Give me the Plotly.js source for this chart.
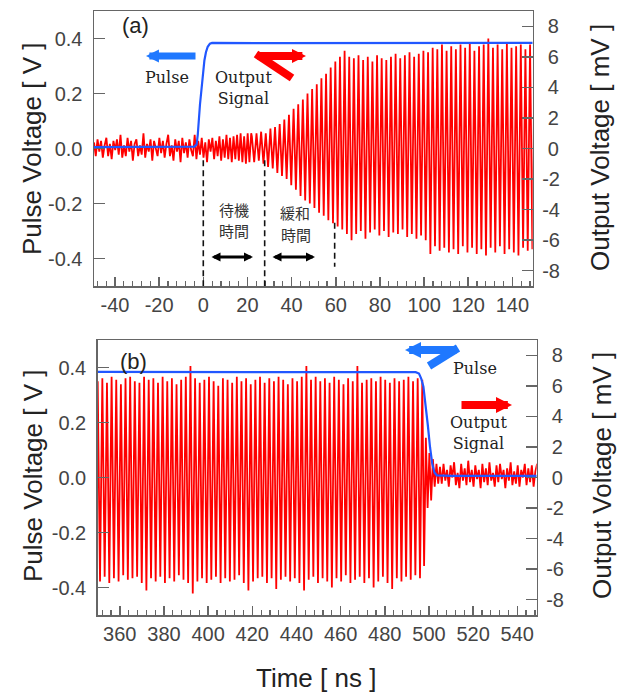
<!DOCTYPE html>
<html><head><meta charset="utf-8">
<script src="https://cdn.plot.ly/plotly-3.0.1.min.js"></script>
<style>html,body{margin:0;padding:0;background:#fff;}#chart{width:625px;height:693px;}</style>
</head><body><div id="chart"></div>
<script>
// ---------------- data ----------------
// Panel (a): pulse voltage [V]
const pulseA_t = [-49.5, -20, -4, -3, -2.5, -1.5, -0.5, 0.5, 1.2, 2, 3, 4, 30, 80, 149.2];
const pulseA_v = [0.005, 0.006, 0.007, 0.015, 0.05, 0.16, 0.25, 0.32, 0.35, 0.37, 0.381, 0.384, 0.383, 0.384, 0.384];
// Panel (a): output signal [mV], baseline noise sampled from t0 with a fixed sample step
const noiseA_t0 = -49.5, noiseA_step = 0.8;
const noiseA_mV = [
 0.4,-0.5,0.6,-0.2,0.5,-0.6,0.2,0.7,-0.5,0.3,
 -0.7,0.5,-0.1,0.6,-0.4,0.9,-0.6,0.2,-0.5,0.7,
 -0.2,0.5,-0.8,0.3,0.6,-0.5,0.2,-0.4,1.0,-0.6,
 0.3,-0.2,0.6,-0.8,0.5,-0.1,-0.5,0.7,-0.3,0.5,
 -0.6,0.3,0.9,-0.5,0.2,-0.8,0.6,-0.2,0.5,-0.9,
 0.7,-0.3,0.4,-0.6,0.6,-0.1,-0.5,0.9,-0.7,0.5,
 -0.4,0.7,-0.6,0.4,-0.9,0.6,-0.2,0.7,-0.7,0.5,
 -0.5,0.8,-0.8,0.6,-0.6,0.9,-0.7,0.7,-0.9,0.8,
 -0.7,0.9,-0.8,1.0,-0.9,0.8,-1.0,1.0,-0.9,1.0];
// Panel (a): oscillation peaks / troughs [mV]
const oscA_t0 = 22, oscA_step = 1.05;
const oscA_mV = [
 0.8,-0.9,1.0,-0.8,1.1,-1.0,1.0,-1.2,1.3,-1.3,
 1.4,-1.6,1.6,-1.8,1.9,-2.0,2.2,-2.4,2.6,-2.7,
 2.9,-3.1,3.2,-3.4,3.6,-3.6,3.9,-3.9,4.2,-4.2,
 4.6,-4.4,4.9,-4.7,5.3,-4.9,5.7,-5.1,6.0,-5.3,
 6.4,-5.6,6.0,-6.0,5.9,-5.6,6.1,-5.4,5.8,-5.9,
 6.0,-5.5,5.7,-5.3,6.1,-5.7,5.9,-5.4,5.8,-5.8,
 6.0,-5.5,6.2,-5.6,5.9,-5.3,6.1,-5.8,6.3,-5.6,
 6.0,-5.9,6.2,-5.7,6.4,-6.0,6.3,-6.9,6.6,-6.4,
 6.5,-6.7,6.8,-6.5,6.4,-6.8,6.7,-6.6,6.5,-6.9,
 6.8,-6.4,6.6,-6.8,6.9,-6.5,6.4,-6.9,6.7,-6.6,
 6.8,-7.0,7.2,-6.5,6.6,-6.8,6.8,-6.4,6.5,-6.9,
 6.9,-6.6,6.6,-6.8,6.7,-7.0,6.8,-6.5,6.5,-6.7,
 6.8,-6.6,6.6];

// Panel (b): pulse voltage [V]
const pulseB_t = [350, 400, 450, 494, 495.5, 496.5, 497.5, 498.5, 499.5, 500.5, 501.5, 502.5, 503.5, 510, 548.8];
const pulseB_v = [0.384, 0.383, 0.384, 0.383, 0.378, 0.36, 0.33, 0.27, 0.19, 0.11, 0.05, 0.018, 0.008, 0.006, 0.006];
// Panel (b): oscillation peaks / troughs [mV]
const oscB_t0 = 350, oscB_step = 1.05;
const oscB_mV = [
 6.3,-6.8,6.5,-6.5,6.2,-6.9,6.6,-6.6,6.4,-6.8,6.1,-6.4,6.5,-6.7,6.6,-6.6,6.3,-6.5,6.2,-6.9,
 6.6,-7.4,6.4,-6.6,6.5,-6.8,6.2,-6.5,6.6,-6.9,6.3,-6.6,6.5,-6.8,6.1,-6.4,6.4,-6.7,6.6,-6.9,
 7.3,-7.6,6.5,-6.8,6.2,-6.6,6.4,-6.9,6.6,-6.7,6.3,-6.5,6.0,-6.9,6.5,-6.6,6.4,-6.8,6.2,-6.7,
 6.6,-6.4,6.3,-6.9,6.5,-7.4,6.1,-6.8,6.4,-6.6,6.6,-6.5,6.2,-6.9,6.5,-6.6,6.3,-7.3,6.6,-6.7,
 6.4,-6.5,6.1,-6.8,6.5,-6.6,6.3,-6.9,6.6,-7.4,7.3,-6.7,6.4,-6.5,6.6,-6.9,6.3,-6.6,6.5,-6.8,
 6.2,-7.2,6.6,-6.6,6.4,-6.8,6.1,-6.4,6.5,-6.9,6.3,-6.7,7.3,-6.5,6.2,-6.9,6.4,-6.6,6.5,-7.2,
 6.3,-6.8,6.6,-6.5,6.4,-6.9,6.2,-7.3,6.5,-6.6,6.3,-6.8,6.4,-6.5,6.6,-6.7,6.3,-6.4,6.5,-6.6,
 6.4];
// Panel (b): decay and baseline noise [mV]
const tailB_t0 = 497.8, tailB_step = 0.8;
const tailB_mV = [
 -5.8,2.6,-2.0,1.6,-1.5,1.2,-0.6,0.9,-0.4,
 0.7,-0.4,0.9,-0.2,0.5,-0.6,0.8,0.0,1.0,-0.5,
 0.3,-0.7,0.9,-0.2,0.6,-0.5,1.1,-0.3,0.5,-0.6,
 0.8,-0.1,0.5,-0.7,0.9,-0.3,0.6,-0.5,1.0,-0.2,
 0.3,-0.6,0.8,-0.3,0.9,-0.1,0.5,-0.7,0.6,-0.2,
 1.0,-0.5,0.4,-0.4,0.8,-0.6,0.5,0.0,0.9,-0.5,
 0.6,-0.3,0.8,-0.6,0.4,0.9];

// tick labels
const xTicksA = [-40,-20,0,20,40,60,80,100,120,140];
const xTicksB = [360,380,400,420,440,460,480,500,520,540];
const vTicks = [-0.4,-0.2,0,0.2,0.4];
const vTickText = ['-0.4','-0.2','0.0','0.2','0.4'];
const mvTicks = [-8,-6,-4,-2,0,2,4,6,8];
const mvTickText = ['-8','-6','-4','-2','\u20080','\u20082','\u20084','\u20086','\u20088'];
// markers of the waiting / relaxation period [ns]
const dashTimes = [0, 27.8, 59.5];

// ---------------- helpers ----------------
function sampleTimes(t0, step, n){ const a=[]; for(let i=0;i<n;i++) a.push(+(t0+i*step).toFixed(3)); return a; }
const W=625, H=693;
const px = x => x/W, py = y => 1-y/H;
const tickLbl = v => String(v);

const RED='#ff0000', BLUE='#2157ff', ARROWBLUE='#1f78ff', FRAME='#666666';
const sans='Liberation Sans, Arial, sans-serif';
const serif='DejaVu Serif, serif';
const cjk='Noto Sans CJK JP, sans-serif';

const redA_t = sampleTimes(noiseA_t0, noiseA_step, noiseA_mV.length).concat(sampleTimes(oscA_t0, oscA_step, oscA_mV.length));
const redA_v = noiseA_mV.concat(oscA_mV);
const redB_t = sampleTimes(oscB_t0, oscB_step, oscB_mV.length).concat(sampleTimes(tailB_t0, tailB_step, tailB_mV.length));
const redB_v = oscB_mV.concat(tailB_mV);

const traces = [
 {x: redA_t, y: redA_v, xaxis:'x', yaxis:'y', mode:'lines', line:{color:RED, width:1.8}, hoverinfo:'skip'},
 {x: pulseA_t, y: pulseA_v, xaxis:'x', yaxis:'y2', mode:'lines', line:{color:BLUE, width:2.2}, hoverinfo:'skip'},
 {x: redB_t, y: redB_v, xaxis:'x2', yaxis:'y3', mode:'lines', line:{color:RED, width:1.8}, hoverinfo:'skip'},
 {x: pulseB_t, y: pulseB_v, xaxis:'x2', yaxis:'y4', mode:'lines', line:{color:BLUE, width:2.2}, hoverinfo:'skip'}
];

const tickfont = {family: sans, size: 20, color:'#444'};
function xAxis(domain, range, anchor, ticks){
  return {domain, range, anchor, showline:true, linecolor:FRAME, linewidth:1.5, mirror:true,
    ticks:'inside', ticklen:9, tickwidth:1.5, tickcolor:FRAME,
    tickmode:'array', tickvals:ticks, ticktext:ticks.map(tickLbl), tickfont,
    minor:{ticks:'inside', ticklen:5, tickwidth:1.2, tickcolor:FRAME, dtick:4, tick0:0, showgrid:false},
    showgrid:false, zeroline:false, ticklabelstandoff:0, fixedrange:true};
}
function mvAxis(domain, anchor){
  return {domain, range:[-9,9], anchor, side:'right', showline:true, linecolor:FRAME, linewidth:1.5,
    ticks:'inside', ticklen:11, tickwidth:1.5, tickcolor:FRAME,
    tickmode:'array', tickvals:mvTicks, ticktext:mvTickText, tickfont,
    showgrid:false, zeroline:false, ticklabelstandoff:4, fixedrange:true};
}
function vAxis(over, anchor){
  return {overlaying:over, anchor, side:'left', range:[-0.5,0.5], showline:true, linecolor:FRAME, linewidth:1.5,
    ticks:'inside', ticklen:11, tickwidth:1.5, tickcolor:FRAME,
    tickmode:'array', tickvals:vTicks, ticktext:vTickText, tickfont,
    showgrid:false, zeroline:false, ticklabelstandoff:6, fixedrange:true};
}

const txt = (text, x, y, font, extra) => Object.assign({text, xref:'paper', yref:'paper', x:px(x), y:py(y),
  xanchor:'center', yanchor:'middle', showarrow:false, font}, extra||{});
const titleFont = {family:sans, size:26, color:'#222'};
const labelFont = {family:serif, size:16, color:'#222'};
const cjkFont = {family:cjk, size:15, color:'#333'};

function arrow(tx, ty, dx, color, w, size, both){
  return {text:'', xref:'paper', yref:'paper', x:px(tx), y:py(ty), axref:'pixel', ayref:'pixel', ax:dx, ay:0,
    showarrow:true, arrowhead:2, arrowsize:size, arrowwidth:w, arrowcolor:color,
    arrowside: both ? 'end+start' : 'end', startstandoff:0, standoff:0};
}
const bar = (x0,y0,x1,y1,color,w) => ({type:'line', xref:'paper', yref:'paper', x0:px(x0), y0:py(y0), x1:px(x1), y1:py(y1), line:{color, width:w}});

const annotations = [
 txt('(a)', 135, 26, {family:sans, size:22, color:'#222'}),
 txt('(b)', 133, 361, {family:sans, size:22, color:'#222'}),
 txt('Pulse Voltage [ V ]', 32, 149, titleFont, {textangle:-90}),
 txt('Pulse Voltage [ V ]', 33, 476, titleFont, {textangle:-90}),
 txt('Output Voltage [ mV ]', 600, 148, titleFont, {textangle:-90}),
 txt('Output Voltage [ mV ]', 602, 476, titleFont, {textangle:-90}),
 txt('Time [ ns ]', 316, 678, titleFont),
 txt('Pulse', 167, 78, labelFont),
 txt('Output<br>Signal', 243, 88.5, labelFont),
 txt('Pulse', 475, 368, labelFont),
 txt('Output<br>Signal', 478, 432.5, labelFont),
 txt('待機', 233.5, 209, cjkFont),
 txt('時間', 233.5, 231, cjkFont),
 txt('緩和', 295, 212, cjkFont),
 txt('時間', 296, 234, cjkFont),
 arrow(146, 56, 51, ARROWBLUE, 7, 0.37, false),
 arrow(306, 56, -50, RED, 8, 0.35, false),
 arrow(405, 350, 53, ARROWBLUE, 8, 0.4, false),
 arrow(512, 405, -52, RED, 8, 0.4, false),
 arrow(253, 257, -43, '#000', 3, 0.6, true),
 arrow(315, 257, -44, '#000', 3, 0.6, true)
];

const shapes = [
 bar(256, 54, 292, 78, RED, 8),
 bar(458, 348, 429, 366, ARROWBLUE, 8),
 {type:'line', xref:'x', yref:'y2', x0:dashTimes[0], x1:dashTimes[0], y0:-0.043, y1:-0.5, line:{color:'#111', width:1.6, dash:'6px,4px'}},
 {type:'line', xref:'x', yref:'y2', x0:dashTimes[1], x1:dashTimes[1], y0:-0.043, y1:-0.5, line:{color:'#111', width:1.6, dash:'6px,4px'}},
 {type:'line', xref:'x', yref:'y2', x0:dashTimes[2], x1:dashTimes[2], y0:-0.27, y1:-0.43, line:{color:'#111', width:1.6, dash:'6px,4px'}}
];

const layout = {
  width:W, height:H, margin:{l:0,r:0,t:0,b:0}, paper_bgcolor:'#fff', plot_bgcolor:'#fff',
  showlegend:false, font:{family:sans},
  xaxis: xAxis([94/W, 532.7/W], [-49.5, 149.2], 'y', xTicksA),
  yaxis: mvAxis([1-286/H, 1-11/H], 'x'),
  yaxis2: vAxis('y', 'x'),
  xaxis2: xAxis([97.7/W, 536.7/W], [350, 548.8], 'y3', xTicksB),
  yaxis3: mvAxis([1-615/H, 1-340/H], 'x2'),
  yaxis4: vAxis('y3', 'x2'),
  annotations, shapes
};
Plotly.newPlot('chart', traces, layout, {displayModeBar:false, staticPlot:true});
</script></body></html>
